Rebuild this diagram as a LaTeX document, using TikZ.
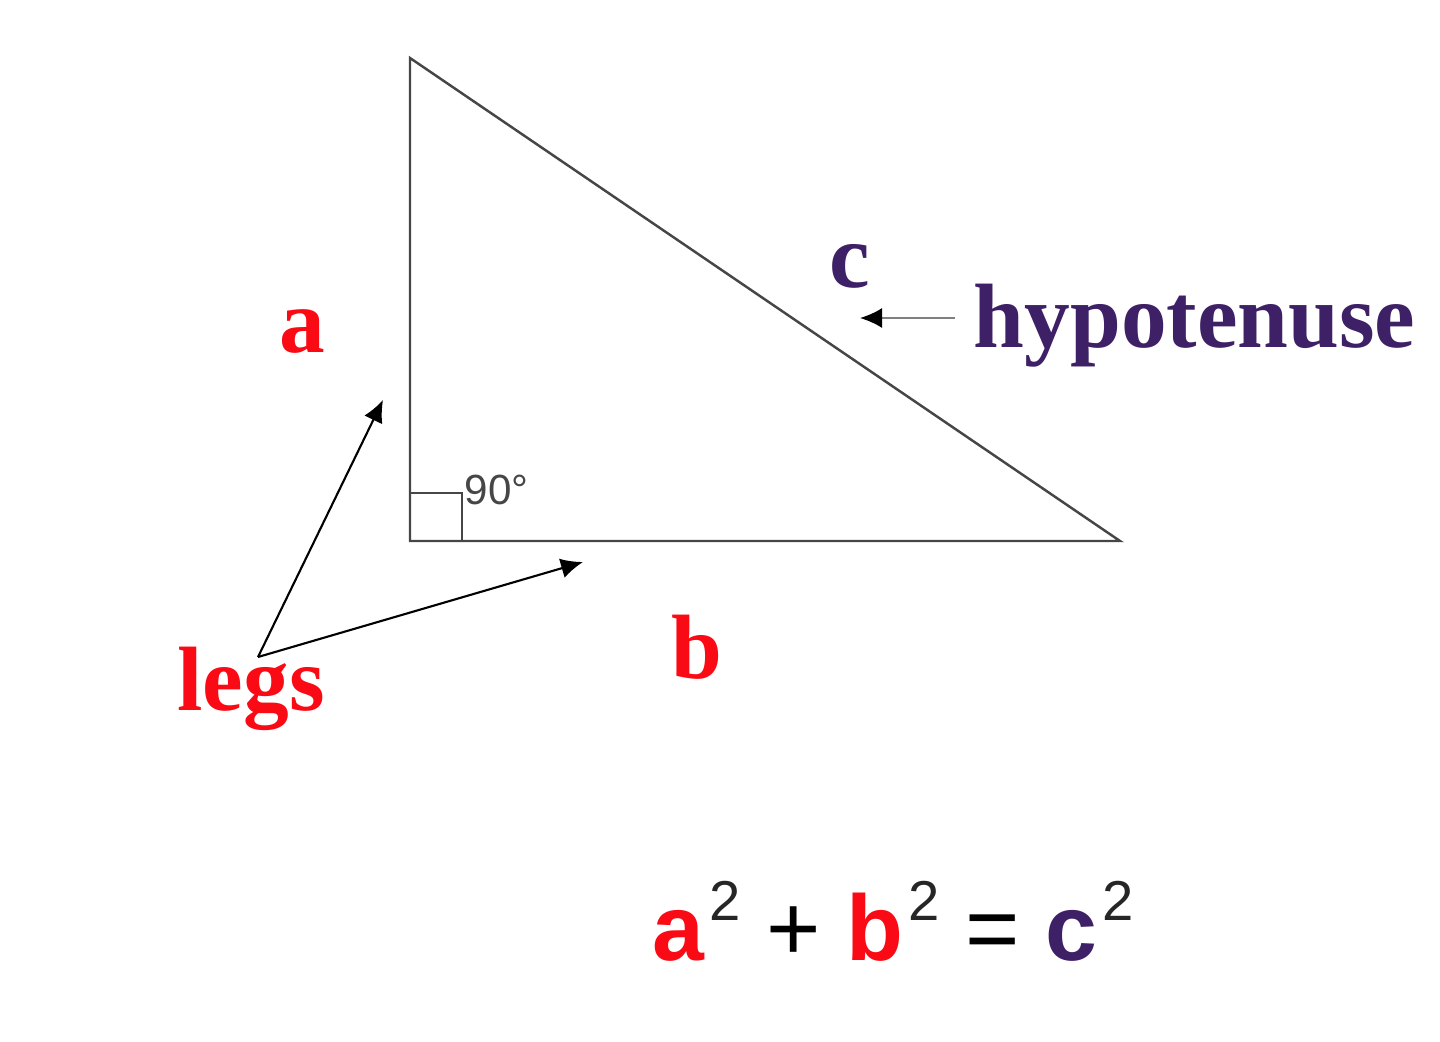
\documentclass[tikz,border=0pt]{standalone}
\usepackage{fontspec}
\setmainfont{Liberation Serif}
\newfontfamily\eqfont{Liberation Sans}
\usepackage{tikz}
\usetikzlibrary{arrows.meta}
\usepackage{xcolor}
\definecolor{legred}{RGB}{250,10,20}
\definecolor{hypviolet}{RGB}{62,32,102}
\definecolor{edgegray}{RGB}{70,70,70}
\tikzstyle{leglabel} = [text=legred, font=\fontsize{26}{30}\selectfont\bfseries, inner sep=0pt, anchor=base]
\tikzstyle{hyplabel} = [text=hypviolet, font=\fontsize{26}{30}\selectfont\bfseries, inner sep=0pt, anchor=base]
\tikzstyle{edge} = [draw=edgegray, line width=0.7pt]
\tikzstyle{pointer} = [-{Latex[length=2.2mm, width=2mm, color=black]}, line width=0.6pt]
\newcommand{\sqtwo}{\hspace{0.05em}\raisebox{0.42em}{\fontsize{16}{18}\selectfont\mdseries\color{black!85}2}}

\begin{document}
\begin{tikzpicture}
		\useasboundingbox (0,0) rectangle (14.4,10.41);
		% triangle
		\coordinate (top) at (4.10,9.83);
		\coordinate (corner) at (4.10,5.00);
		\coordinate (right) at (11.20,5.00);
		\draw [edge] (top) -- (corner) -- (right) -- cycle;
		\draw [edge] (4.10,5.48) -| (4.62,5.00);
		\node (angle) [anchor=base west, inner sep=0pt, text=edgegray, font=\eqfont\fontsize{12}{14}\selectfont] at (4.64,5.37) {90\textdegree};
		
		% labels
		\node (a) [leglabel] at (3.02,6.89) {a};
		\node (b) [leglabel] at (6.97,3.63) {b};
		\node (c) [hyplabel] at (8.50,7.54) {c};
		\node (hyp) [hyplabel, anchor=base west] at (9.73,6.94) {hypotenuse};
		\node (legs) [leglabel] at (2.51,3.31) {legs};
		
		% arrows
		\coordinate (legsfrom) at (2.58,3.84);
		\coordinate (tovert) at (3.83,6.41);
		\coordinate (tohoriz) at (5.83,4.79);
		\draw [pointer] (legsfrom) -- (tovert);
		\draw [pointer] (legsfrom) -- (tohoriz);
		\coordinate (hypfrom) at (9.55,7.23);
		\coordinate (hypto) at (8.60,7.23);
		\draw [pointer, draw=gray] (hypfrom) -- (hypto);
		
		% equation
		\node (eq) [anchor=base west, inner sep=0pt, font=\eqfont\fontsize{26.5}{30}\selectfont] at (6.52,0.81)
			{{\bfseries\color{legred}a}\sqtwo{} + {\bfseries\color{legred}b}\sqtwo{} = {\bfseries\color{hypviolet}c}\sqtwo};
	\end{tikzpicture}
\end{document}
